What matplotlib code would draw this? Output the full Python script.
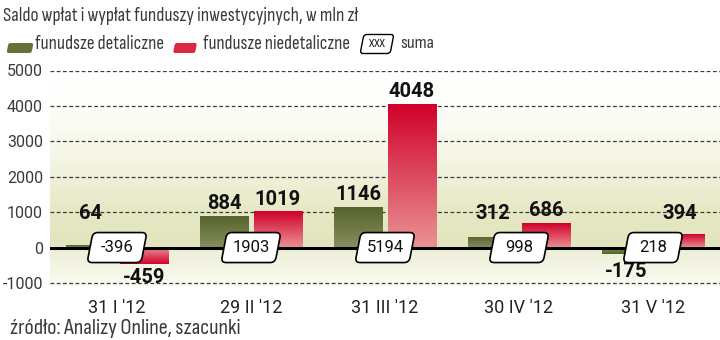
import numpy as np
import matplotlib
matplotlib.use("Agg")
import matplotlib.pyplot as plt
from matplotlib.colors import LinearSegmentedColormap
from matplotlib.patches import FancyBboxPatch
from matplotlib.transforms import Affine2D, ScaledTranslation

# dane
categories = ["31 I '12", "29 II '12", "31 III '12", "30 IV '12", "31 V '12"]
retail = [64, 884, 1146, 312, -175]
non_retail = [-459, 1019, 4048, 686, 394]
total = [-396, 1903, 5194, 998, 218]
yticks = [-1000, 0, 1000, 2000, 3000, 4000, 5000]

plt.rcParams["font.family"] = ["Roboto", "DejaVu Sans"]
narrow = ["Sofia Sans Condensed", "Roboto", "DejaVu Sans"]

fig = plt.figure(figsize=(7.2, 3.4), dpi=100)
ax = fig.add_axes([50 / 720, 1 - 286.5 / 340, 670 / 720, (286.5 - 70.5) / 340])
ax.set_xlim(-0.5, 4.5)
ax.set_ylim(-1100, 5000)


def slanted_box(w, h, base, x, y, fc="white", ec="black", lw=1.2, z=6, r=5):
    # zaokraglony rownoleglobok (w, h w pikselach) wysrodkowany w (x, y)
    tr = Affine2D().skew_deg(11, 0) + ScaledTranslation(x, y, base)
    p = FancyBboxPatch((-w / 2, -h / 2), w, h, boxstyle=f"round,pad=0,rounding_size={r}",
                       fc=fc, ec=ec, lw=lw, transform=tr, zorder=z)
    return p


# tlo - gradient
bg_cmap = LinearSegmentedColormap.from_list(
    "bg", [(0.0, "#fbfbf2"), (0.18, "#eceed4"), (0.185, "#e2e5bd"), (0.35, "#e6e8c4"),
           (0.6, "#f5f6e6"), (0.85, "#fefefb"), (1.0, "#ffffff")])
grad = np.linspace(0, 1, 256).reshape(-1, 1)
ax.imshow(grad, extent=(-0.5, 4.5, -1100, 5000), origin="lower", aspect="auto",
          cmap=bg_cmap, zorder=0)

for t in yticks:
    if t != 0:
        ax.axhline(t, color="#3a3a3a", lw=0.9, dashes=(3, 2), zorder=1)

x = np.arange(len(categories))
w = 0.36
green_cmap = LinearSegmentedColormap.from_list("g", ["#878f5f", "#56632d"])
red_cmap = LinearSegmentedColormap.from_list("r", ["#ea9494", "#d0002b"])

b1 = ax.bar(x - w / 2 - 0.02, retail, w, facecolor="none", edgecolor="none", zorder=2)
b2 = ax.bar(x + w / 2 + 0.02, non_retail, w, facecolor="none", edgecolor="none", zorder=2)
for bars, cm in ((b1, green_cmap), (b2, red_cmap)):
    for p in bars:
        x0, y0 = p.get_x(), p.get_y()
        h = p.get_height()
        ylo, yhi = min(y0, y0 + h), max(y0, y0 + h)
        g = grad if h >= 0 else grad[::-1]
        im = ax.imshow(g, extent=(x0, x0 + p.get_width(), ylo, yhi), origin="lower",
                       aspect="auto", cmap=cm, zorder=2)
        im.set_clip_path(p)

ax.axhline(0, color="black", lw=2.2, zorder=3)

# wartosci
for bars, vals in ((b1, retail), (b2, non_retail)):
    for p, v in zip(bars, vals):
        cx = p.get_x() + p.get_width() / 2
        if v >= 0:
            ax.annotate(str(v), (cx, max(v, 620)), xytext=(0, 2), textcoords="offset points",
                        ha="center", va="bottom", fontsize=14.5, fontweight="bold",
                        color="#111111", zorder=5)
        else:
            ax.annotate(str(v), (cx, min(v, -300)), xytext=(0, -3), textcoords="offset points",
                        ha="center", va="top", fontsize=14.5, fontweight="bold",
                        color="#111111", zorder=5)

# sumy w ramkach
for xi, s in zip(x, total):
    ax.add_patch(slanted_box(54, 30, ax.transData, xi, 0))
    ax.text(xi, 0, str(s), ha="center", va="center", fontsize=12, color="#111111", zorder=7)

ax.set_yticks(yticks)
ax.set_yticklabels([str(t) for t in yticks], fontsize=11.5, color="#3a3a3a")
ax.set_xticks(x)
ax.set_xticklabels(categories, fontsize=13, color="#222222")
ax.tick_params(length=0)
ax.tick_params(axis="x", pad=9)
ax.tick_params(axis="y", pad=5)
for s in ax.spines.values():
    s.set_visible(False)

# tytul i legenda
title = fig.text(3 / 720, 1 - 16 / 340, "Saldo wpłat i wypłat funduszy inwestycyjnych, w mln zł",
                 fontsize=12, color="#3a3a3a", va="center", ha="left", family=narrow)
leg_y = 1 - 44 / 340
fig.patches.append(slanted_box(25, 10, fig.transFigure, 20 / 720, 1 - 48 / 340,
                               fc="#66723a", ec="none", z=1, r=2))
t1 = fig.text(35 / 720, leg_y, "funudsze detaliczne", fontsize=12, color="#3a3a3a",
              va="center", family=narrow)
fig.patches.append(slanted_box(22, 10, fig.transFigure, 185 / 720, 1 - 48 / 340,
                               fc="#d92840", ec="none", z=1, r=2))
t2 = fig.text(203 / 720, leg_y, "fundusze niedetaliczne", fontsize=12, color="#3a3a3a",
              va="center", family=narrow)
fig.patches.append(slanted_box(30, 19, fig.transFigure, 377 / 720, leg_y, lw=1, z=1, r=3))
fig.text(377 / 720, leg_y, "XXX", fontsize=9, color="#111111", va="center", ha="center",
         family=narrow)
t3 = fig.text(400 / 720, leg_y, "suma", fontsize=12, color="#3a3a3a", va="center",
              family=narrow)

src = fig.text(10 / 720, 1 - 328 / 340, "źródło: Analizy Online, szacunki", fontsize=11,
               color="#3a3a3a", va="center", family=narrow)

# dopasowanie szerokosci napisow do oryginalu
fig.canvas.draw()
r = fig.canvas.get_renderer()
for t, target in ((title, 354), (t1, 129), (t2, 147), (t3, 34), (src, 233)):
    t.set_fontsize(t.get_fontsize() * target / t.get_window_extent(r).width)

fig.savefig("out.png", dpi=100)
